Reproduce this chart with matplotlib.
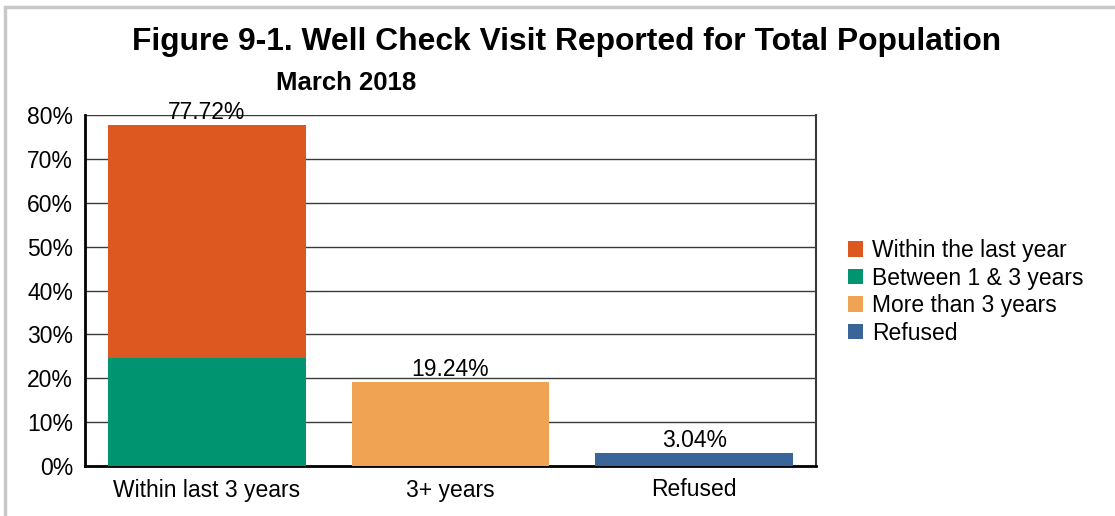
import matplotlib.pyplot as plt
from matplotlib.patches import Rectangle

plt.rcParams['font.family'] = ['Liberation Sans', 'DejaVu Sans']

kategorije = ['Within last 3 years', '3+ years', 'Refused']
serije = ['Within the last year', 'Between 1 & 3 years', 'More than 3 years', 'Refused']
boje = ['#DD5820', '#009470', '#EFA353', '#3A6598']

# vrednosti po seriji za svaku kategoriju (%)
unutar_god = [53.10, 0, 0]
izmedju_1_3 = [24.62, 0, 0]
vise_od_3 = [0, 19.24, 0]
odbijeno = [0, 0, 3.04]
ukupno = [77.72, 19.24, 3.04]
oznake = ['77.72%', '19.24%', '3.04%']
y_ticks = [0, 10, 20, 30, 40, 50, 60, 70, 80]

FS = 16.5

fig = plt.figure(figsize=(11.15, 5.16), dpi=100)
ax = fig.add_axes([85 / 1115, 1 - 466 / 516, (816 - 85) / 1115, (466 - 115) / 516])

x = range(len(kategorije))
w = 0.81
ax.bar(x, izmedju_1_3, w, color=boje[1], label=serije[1], zorder=3)
ax.bar(x, unutar_god, w, bottom=izmedju_1_3, color=boje[0], label=serije[0], zorder=3)
ax.bar(x, vise_od_3, w, color=boje[2], label=serije[2], zorder=3)
ax.bar(x, odbijeno, w, color=boje[3], label=serije[3], zorder=3)

for xi, v, t in zip(x, ukupno, oznake):
    ax.text(xi, v + 0.2, t, ha='center', va='bottom', fontsize=FS, zorder=4)

ax.set_ylim(0, 80)
ax.set_xlim(-0.5, 2.5)
ax.set_yticks(y_ticks)
ax.set_yticklabels([f'{t}%' for t in y_ticks], fontsize=FS)
ax.set_xticks(list(x))
ax.set_xticklabels(kategorije, fontsize=FS)
ax.tick_params(length=0)
ax.tick_params(axis='y', pad=8.5)
ax.tick_params(axis='x', pad=9)
ax.yaxis.grid(True, color='#3a3a3a', linewidth=1.0, zorder=0)

for s in ['left', 'bottom']:
    ax.spines[s].set_linewidth(2)
    ax.spines[s].set_color('black')
ax.spines['top'].set_visible(False)
ax.spines['right'].set_color('#3a3a3a')
ax.spines['right'].set_linewidth(1.5)

h, l = ax.get_legend_handles_labels()
poredak = [1, 0, 2, 3]
ax.legend([h[i] for i in poredak], [l[i] for i in poredak], loc='center left',
          bbox_to_anchor=(1.016, 0.496), frameon=False, fontsize=FS,
          handlelength=0.65, handleheight=0.65, handletextpad=0.38, labelspacing=0.2)

fig.text(567 / 1115, 1 - 42 / 516, 'Figure 9-1. Well Check Visit Reported for Total Population',
         ha='center', va='center', fontsize=22.9, fontweight='bold')
fig.text(346 / 1115, 1 - 83 / 516, 'March 2018', ha='center', va='center',
         fontsize=18.5, fontweight='bold')

# siva ivica oko grafika
fig.patches.append(Rectangle((5 / 1115, -0.1), 1.2, 1.1 - 7 / 516, transform=fig.transFigure,
                             fill=False, edgecolor='#c8c8c8', linewidth=2.5))

plt.savefig('out.png', dpi=100)
